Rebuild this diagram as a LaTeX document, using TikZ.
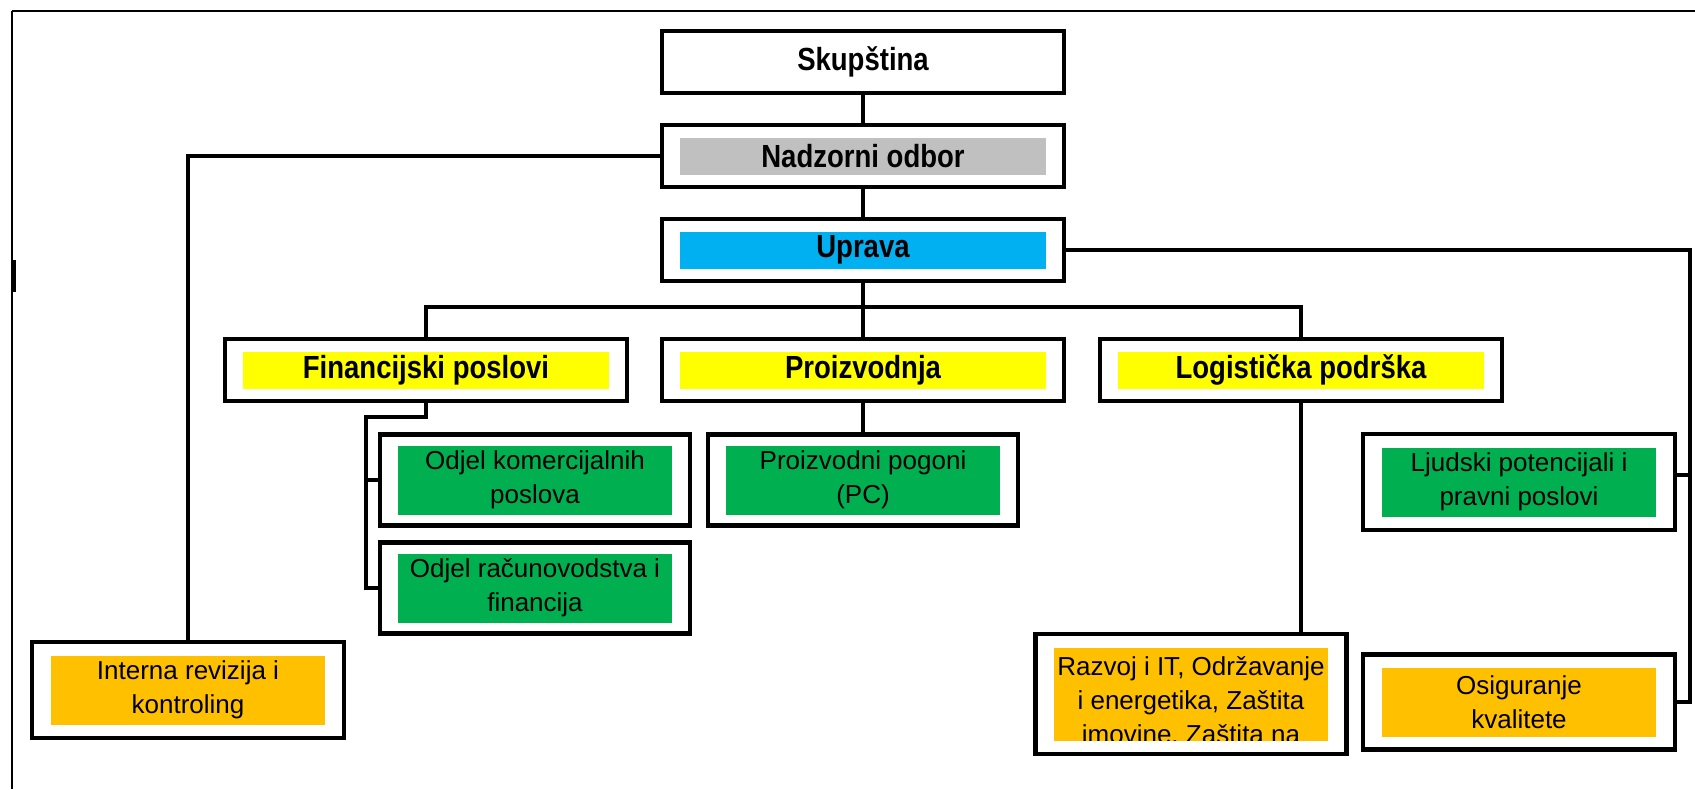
\documentclass[tikz,border=0pt]{standalone}
\usepackage{fontspec}
\setmainfont{Liberation Sans}
\newfontfamily\headfont{Liberation Sans}[FakeStretch=0.86]
\definecolor{siva}{HTML}{C0C0C0}
\definecolor{plava}{HTML}{00B0F0}
\definecolor{zuta}{HTML}{FFFF00}
\definecolor{zelena}{HTML}{00B050}
\definecolor{narancasta}{HTML}{FFC000}
\begin{document}
\begin{tikzpicture}[x=0.5pt,y=-0.5pt,
	okvir/.style={draw,line width=2.2pt,fill=white,inner sep=0pt},
	veza/.style={line width=2.1pt},
	gornji/.style={okvir,minimum width=201pt,minimum height=31pt},
	donji/.style={okvir,minimum width=155pt,minimum height=46.5pt},
	naslov/.style={font=\headfont\bfseries\fontsize{16}{19}\selectfont},
	tekst/.style={align=center,font=\fontsize{13}{17}\selectfont},
	traka/.style={naslov,fill=#1,inner sep=0pt,minimum width=183pt,minimum height=18.5pt},
	polje/.style={tekst,fill=#1,inner sep=0pt,minimum width=137pt,minimum height=34.5pt}]
	\useasboundingbox (0,0) rectangle (1695,789);
	% okvir slike
	\draw[line width=1.3pt] (12,11) -- (1695,11);
	\draw[line width=1pt] (12,11) -- (12,789);
	\draw[line width=1.6pt] (14,260) -- (14,292);
	% uprava i nadzor
	\node[gornji,naslov] (skup) at (863,62) {Skupština};
	\node[gornji] (nadzor) at (863,156) {};
	\node[traka=siva] at (nadzor) {Nadzorni odbor};
	\node[gornji] (uprava) at (863,250) {};
	\node[traka=plava] at (uprava) {Uprava};
	% sektori
	\node[gornji] (finan) at (426,370) {};
	\node[traka=zuta] at (finan) {Financijski poslovi};
	\node[gornji] (proizv) at (863,370) {};
	\node[traka=zuta] at (proizv) {Proizvodnja};
	\node[gornji] (logist) at (1301,370) {};
	\node[traka=zuta] at (logist) {Logistička podrška};
	% odjeli
	\node[donji,minimum height=45.5pt] (odjkom) at (535,480) {};
	\node[polje=zelena] at (odjkom) {Odjel komercijalnih\\poslova};
	\node[donji,minimum height=45.5pt] (odjrac) at (535,588) {};
	\node[polje=zelena] at (odjrac) {Odjel računovodstva i\\financija};
	\node[donji,minimum height=45.5pt] (pogoni) at (863,480) {};
	\node[polje=zelena] at (pogoni) {Proizvodni pogoni\\(PC)};
	\node[donji,minimum width=156pt,minimum height=48pt] (ljudski) at (1519,482) {};
	\node[polje=zelena] at (ljudski) {Ljudski potencijali i\\pravni poslovi};
	\node[donji,minimum width=156pt,minimum height=48pt] (interna) at (188,690) {};
	\node[polje=narancasta] at (interna) {Interna revizija i\\kontroling};
	\node[donji,minimum width=156pt,minimum height=47.5pt] (osig) at (1519,702) {};
	\node[polje=narancasta] at (osig) {Osiguranje\\kvalitete};
	\node[donji,minimum width=155.5pt,minimum height=60pt] (razvoj) at (1191,694) {};
	\node[polje=narancasta,minimum height=46.5pt,
		path picture={\node[tekst,inner sep=0pt,anchor=north] at ([yshift=-3.5pt]path picture bounding box.north)
			{Razvoj i IT, Održavanje\\i energetika, Zaštita\\imovine, Zaštita na};}] at (razvoj) {};
	% veze
	\coordinate (sabirnica) at (863,307);
	\coordinate (lijevo) at (366,417);
	\coordinate (desno) at (1690,0);
	\coordinate (ljudski-ul) at ([yshift=3.5pt]ljudski.east);
	\draw[veza] (skup) -- (nadzor);
	\draw[veza] (nadzor) -- (uprava);
	\draw[veza] (uprava) -- (proizv);
	\draw[veza] (finan.north) |- (sabirnica) -| (logist.north);
	\draw[veza] (nadzor.west) -| (interna.north);
	\draw[veza] (uprava.east) -| (desno |- osig.east) -- (osig.east);
	\draw[veza] (ljudski-ul) -- (desno |- ljudski-ul);
	\draw[veza] (proizv) -- (pogoni);
	\draw[veza] (logist.south) -- (logist.south |- razvoj.north);
	\draw[veza] (finan.south) |- (lijevo) |- (odjkom.west);
	\draw[veza] (lijevo) |- (odjrac.west);
\end{tikzpicture}
\end{document}
